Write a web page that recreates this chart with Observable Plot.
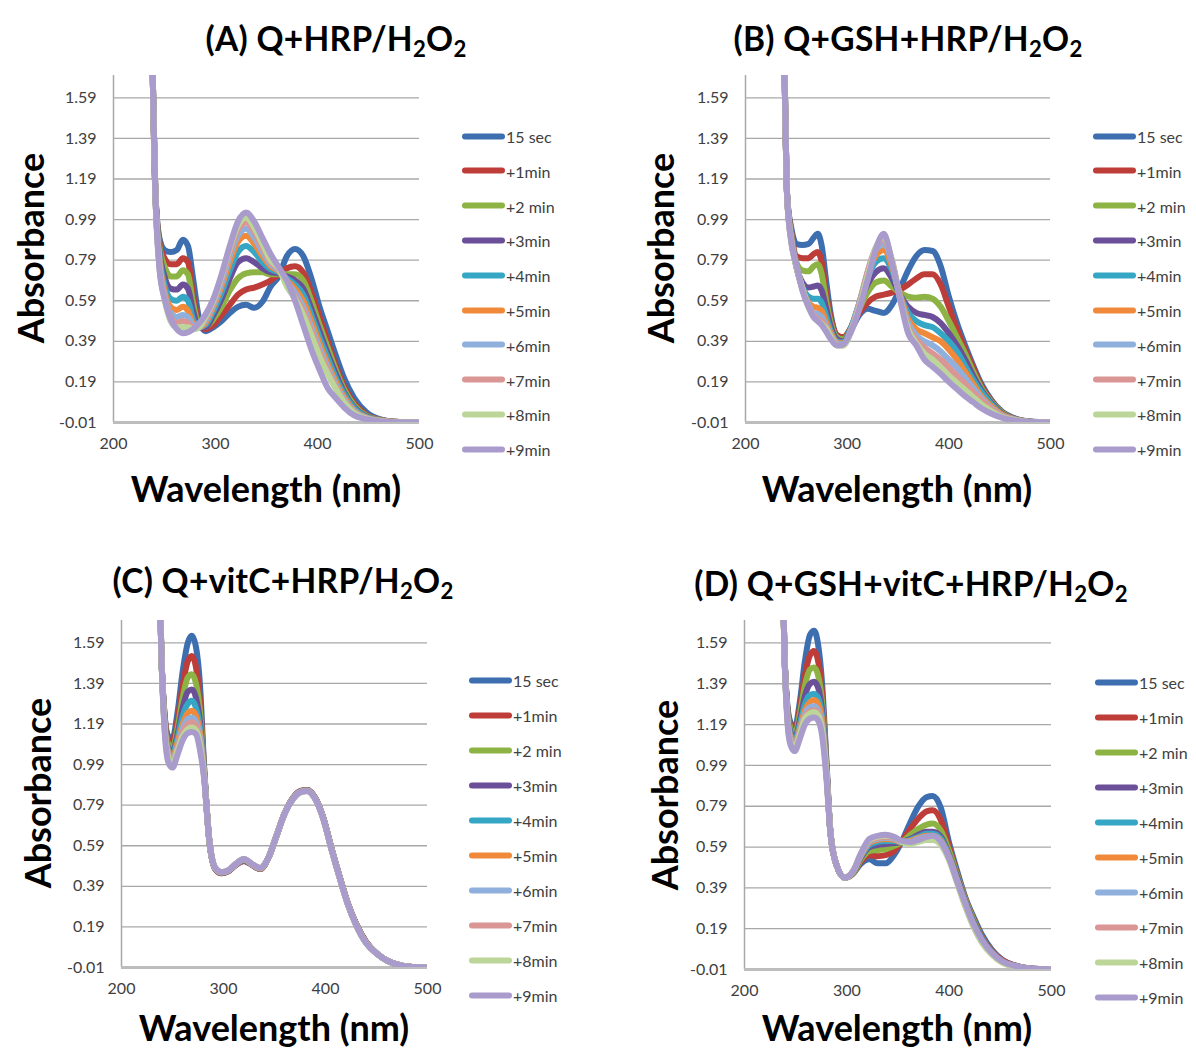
<!DOCTYPE html>
<html><head><meta charset="utf-8">
<script src="https://cdn.jsdelivr.net/npm/d3@7"></script>
<script src="https://cdn.jsdelivr.net/npm/@observablehq/plot@0.6"></script>
<style>
body{margin:0;background:#fff;}
#root{position:relative;width:1196px;height:1051px;overflow:hidden;font-family:Lato,"Open Sans",sans-serif;color:#000;}
.title{position:absolute;font-weight:bold;font-size:33.5px;letter-spacing:0.3px;line-height:1.1;white-space:nowrap;transform:translate(-50%,-50%);}
.title sub{font-size:0.66em;vertical-align:-0.28em;line-height:0}
.ylab{position:absolute;font-weight:bold;font-size:36px;line-height:1;white-space:nowrap;transform:translate(-50%,-50%) rotate(-90deg);}
.xlab{position:absolute;font-weight:bold;font-size:36px;line-height:1;white-space:nowrap;transform:translate(-50%,-50%);}
.panel{position:absolute}
.leg{position:absolute;display:flex;align-items:center;font-size:16px;color:#404040;white-space:nowrap;transform:translateY(-50%)}
.sw{width:43px;height:6px;border-radius:3px;margin-right:1px}
</style></head>
<body><div id="root"></div>
<script>
// ---------- shared ----------
const seriesNames = ["15 sec","+1min","+2 min","+3min","+4min","+5min","+6min","+7min","+8min","+9min"];
const seriesColors = ["#3d6fb0","#be3d38","#8cb343","#6b4f98","#35a7c4","#f0893a","#8fb0dd","#d99694","#bcd69a","#a99bcb"];
const xTicks = [200, 300, 400, 500];
const yTicks = [-0.01, 0.19, 0.39, 0.59, 0.79, 0.99, 1.19, 1.39, 1.59];
const titles = ["(A) Q+HRP/H<sub>2</sub>O<sub>2</sub>", "(B) Q+GSH+HRP/H<sub>2</sub>O<sub>2</sub>",
                "(C) Q+vitC+HRP/H<sub>2</sub>O<sub>2</sub>", "(D) Q+GSH+vitC+HRP/H<sub>2</sub>O<sub>2</sub>"];

// ---------- Panel A : Q+HRP/H2O2 ----------
const wlA = [236,239,241,245,250,256,262,268,273,278,284,290,298,306,314,322,330,338,346,354,362,370,378,386,394,402,410,418,426,436,448,462,480,500];
const absA = [
 [2.5,1.55,1.13,0.90,0.84,0.83,0.84,0.89,0.86,0.70,0.50,0.44,0.46,0.49,0.53,0.56,0.57,0.555,0.585,0.66,0.71,0.81,0.845,0.81,0.70,0.56,0.44,0.32,0.21,0.11,0.04,0.005,-0.008,-0.01],
 [2.5,1.55,1.13,0.88,0.80,0.77,0.77,0.80,0.78,0.62,0.48,0.45,0.47,0.52,0.57,0.62,0.645,0.655,0.67,0.69,0.72,0.75,0.76,0.73,0.63,0.51,0.39,0.27,0.17,0.085,0.028,0.003,-0.008,-0.01],
 [2.5,1.55,1.13,0.86,0.76,0.71,0.71,0.74,0.72,0.58,0.47,0.46,0.50,0.56,0.64,0.70,0.725,0.73,0.73,0.72,0.72,0.72,0.72,0.69,0.59,0.47,0.36,0.25,0.155,0.075,0.024,0.002,-0.008,-0.01],
 [2.5,1.55,1.13,0.84,0.71,0.65,0.645,0.67,0.65,0.54,0.46,0.46,0.52,0.60,0.70,0.78,0.80,0.78,0.75,0.73,0.725,0.71,0.69,0.65,0.55,0.44,0.33,0.23,0.14,0.065,0.02,0.001,-0.008,-0.01],
 [2.5,1.55,1.13,0.82,0.67,0.60,0.59,0.61,0.59,0.50,0.46,0.47,0.54,0.63,0.74,0.83,0.86,0.83,0.78,0.745,0.73,0.70,0.67,0.62,0.52,0.41,0.31,0.21,0.13,0.06,0.018,0.0,-0.008,-0.01],
 [2.5,1.55,1.13,0.80,0.64,0.56,0.545,0.56,0.54,0.48,0.46,0.48,0.56,0.66,0.78,0.88,0.91,0.87,0.81,0.76,0.735,0.69,0.65,0.59,0.49,0.38,0.28,0.19,0.115,0.05,0.015,0.0,-0.008,-0.01],
 [2.5,1.55,1.13,0.78,0.62,0.53,0.51,0.52,0.51,0.47,0.46,0.49,0.57,0.68,0.81,0.91,0.945,0.90,0.83,0.77,0.74,0.68,0.63,0.56,0.46,0.355,0.26,0.175,0.105,0.045,0.013,-0.002,-0.008,-0.01],
 [2.5,1.55,1.13,0.77,0.61,0.51,0.48,0.49,0.48,0.46,0.46,0.50,0.58,0.70,0.83,0.94,0.975,0.93,0.85,0.78,0.745,0.67,0.61,0.54,0.44,0.335,0.245,0.165,0.097,0.04,0.011,-0.003,-0.009,-0.01],
 [2.5,1.55,1.13,0.76,0.60,0.49,0.46,0.46,0.46,0.45,0.46,0.51,0.59,0.71,0.85,0.96,1.00,0.95,0.87,0.79,0.75,0.66,0.60,0.52,0.42,0.315,0.23,0.155,0.09,0.036,0.009,-0.004,-0.009,-0.01],
 [2.5,1.55,1.13,0.75,0.60,0.50,0.45,0.43,0.435,0.45,0.48,0.52,0.60,0.72,0.86,0.98,1.025,0.98,0.90,0.82,0.755,0.69,0.59,0.47,0.35,0.25,0.16,0.11,0.065,0.025,0.006,-0.005,-0.009,-0.01]
];

// ---------- Panel B : Q+GSH+HRP/H2O2 ----------
const wlB = [236,239,241,245,250,256,262,267,271,275,279,284,290,296,304,312,320,328,336,344,352,360,368,376,384,392,400,408,416,424,432,442,452,464,480,500];
const absB = [
 [2.5,1.55,1.1,0.95,0.87,0.865,0.87,0.90,0.92,0.86,0.70,0.52,0.42,0.41,0.45,0.52,0.55,0.54,0.53,0.57,0.65,0.74,0.81,0.84,0.835,0.76,0.61,0.48,0.37,0.27,0.18,0.10,0.045,0.012,-0.005,-0.01],
 [2.5,1.55,1.1,0.93,0.81,0.80,0.80,0.82,0.83,0.78,0.64,0.50,0.42,0.41,0.46,0.53,0.58,0.61,0.62,0.63,0.645,0.67,0.70,0.72,0.72,0.67,0.56,0.45,0.35,0.26,0.17,0.095,0.04,0.01,-0.006,-0.01],
 [2.5,1.55,1.1,0.92,0.78,0.74,0.735,0.76,0.77,0.72,0.60,0.48,0.41,0.40,0.46,0.55,0.63,0.68,0.69,0.66,0.63,0.61,0.605,0.61,0.60,0.56,0.49,0.41,0.33,0.24,0.16,0.09,0.04,0.01,-0.006,-0.01],
 [2.5,1.55,1.1,0.91,0.76,0.68,0.655,0.66,0.665,0.64,0.56,0.46,0.40,0.39,0.46,0.57,0.67,0.73,0.75,0.70,0.62,0.56,0.53,0.52,0.51,0.48,0.43,0.37,0.30,0.22,0.15,0.085,0.035,0.01,-0.006,-0.01],
 [2.5,1.55,1.1,0.90,0.76,0.66,0.61,0.60,0.60,0.58,0.52,0.44,0.39,0.385,0.46,0.58,0.70,0.78,0.80,0.74,0.62,0.53,0.49,0.47,0.46,0.43,0.39,0.34,0.27,0.20,0.14,0.08,0.03,0.008,-0.007,-0.01],
 [2.5,1.55,1.1,0.90,0.76,0.65,0.58,0.56,0.555,0.54,0.49,0.43,0.385,0.38,0.45,0.58,0.72,0.81,0.84,0.76,0.62,0.50,0.45,0.43,0.41,0.39,0.35,0.30,0.24,0.18,0.12,0.07,0.03,0.007,-0.007,-0.01],
 [2.5,1.55,1.1,0.89,0.76,0.65,0.57,0.53,0.525,0.51,0.47,0.42,0.38,0.375,0.45,0.58,0.73,0.84,0.87,0.78,0.61,0.48,0.42,0.39,0.37,0.34,0.30,0.26,0.21,0.16,0.11,0.06,0.025,0.005,-0.008,-0.01],
 [2.5,1.55,1.1,0.89,0.76,0.65,0.56,0.52,0.50,0.49,0.46,0.415,0.375,0.37,0.445,0.57,0.73,0.85,0.89,0.79,0.61,0.46,0.40,0.36,0.33,0.30,0.26,0.22,0.18,0.14,0.10,0.055,0.022,0.004,-0.008,-0.01],
 [2.5,1.55,1.1,0.88,0.76,0.65,0.56,0.51,0.49,0.475,0.455,0.41,0.37,0.37,0.44,0.56,0.71,0.85,0.905,0.79,0.60,0.45,0.38,0.33,0.30,0.26,0.22,0.185,0.15,0.115,0.08,0.045,0.018,0.003,-0.008,-0.01],
 [2.5,1.55,1.1,0.88,0.77,0.64,0.56,0.51,0.49,0.47,0.44,0.40,0.37,0.375,0.44,0.55,0.69,0.84,0.92,0.78,0.60,0.43,0.37,0.30,0.265,0.23,0.19,0.155,0.12,0.09,0.06,0.033,0.014,0.0,-0.008,-0.01]
];

// ---------- Panel C : Q+vitC+HRP/H2O2 ----------
const wlC = [236,239,242,246,250,255,260,265,269,273,277,281,286,292,298,305,312,320,328,336,344,352,360,368,376,382,390,398,406,414,422,430,440,450,460,470,485,500];
const absC = [
 [2.3,1.55,1.25,1.13,1.12,1.25,1.45,1.59,1.625,1.57,1.38,0.98,0.62,0.475,0.455,0.465,0.495,0.515,0.495,0.475,0.53,0.64,0.75,0.825,0.86,0.865,0.825,0.725,0.575,0.435,0.305,0.205,0.115,0.06,0.025,0.005,-0.008,-0.01],
 [2.3,1.55,1.25,1.11,1.09,1.21,1.38,1.50,1.525,1.47,1.30,0.97,0.62,0.475,0.455,0.465,0.495,0.515,0.495,0.475,0.53,0.64,0.75,0.825,0.86,0.865,0.825,0.725,0.575,0.435,0.305,0.205,0.115,0.06,0.025,0.005,-0.008,-0.01],
 [2.3,1.55,1.24,1.09,1.07,1.17,1.32,1.42,1.435,1.39,1.25,0.96,0.62,0.477,0.457,0.467,0.497,0.518,0.497,0.477,0.53,0.64,0.75,0.823,0.858,0.863,0.823,0.723,0.573,0.433,0.303,0.203,0.113,0.06,0.025,0.005,-0.008,-0.01],
 [2.3,1.55,1.23,1.07,1.05,1.14,1.27,1.35,1.36,1.32,1.20,0.95,0.62,0.477,0.457,0.467,0.497,0.52,0.497,0.477,0.53,0.64,0.75,0.823,0.858,0.863,0.823,0.723,0.573,0.433,0.303,0.203,0.113,0.06,0.025,0.005,-0.008,-0.01],
 [2.3,1.55,1.22,1.06,1.04,1.12,1.23,1.29,1.305,1.27,1.17,0.95,0.62,0.478,0.458,0.468,0.498,0.522,0.498,0.478,0.53,0.64,0.75,0.822,0.857,0.862,0.822,0.722,0.572,0.432,0.302,0.202,0.112,0.06,0.025,0.005,-0.008,-0.01],
 [2.3,1.55,1.21,1.05,1.02,1.10,1.19,1.245,1.255,1.23,1.14,0.94,0.62,0.478,0.458,0.468,0.498,0.523,0.498,0.478,0.53,0.64,0.75,0.822,0.857,0.862,0.822,0.722,0.572,0.432,0.302,0.202,0.112,0.06,0.025,0.005,-0.008,-0.01],
 [2.3,1.55,1.20,1.04,1.01,1.08,1.17,1.215,1.222,1.20,1.12,0.94,0.62,0.48,0.46,0.47,0.50,0.524,0.50,0.48,0.53,0.64,0.75,0.82,0.855,0.86,0.82,0.72,0.57,0.43,0.30,0.20,0.11,0.06,0.025,0.005,-0.008,-0.01],
 [2.3,1.55,1.20,1.03,1.00,1.07,1.15,1.19,1.198,1.18,1.10,0.93,0.62,0.48,0.46,0.47,0.50,0.525,0.50,0.48,0.53,0.64,0.75,0.82,0.855,0.86,0.82,0.72,0.57,0.43,0.30,0.20,0.11,0.06,0.025,0.005,-0.008,-0.01],
 [2.3,1.55,1.19,1.02,0.99,1.06,1.13,1.165,1.173,1.16,1.09,0.93,0.62,0.48,0.46,0.47,0.50,0.525,0.50,0.48,0.53,0.64,0.75,0.82,0.855,0.86,0.82,0.72,0.57,0.43,0.30,0.20,0.11,0.06,0.025,0.005,-0.008,-0.01],
 [2.3,1.55,1.18,1.00,0.975,1.04,1.11,1.145,1.15,1.14,1.06,0.92,0.62,0.48,0.46,0.47,0.50,0.525,0.50,0.48,0.53,0.64,0.75,0.82,0.855,0.86,0.82,0.72,0.57,0.43,0.30,0.20,0.11,0.06,0.025,0.005,-0.008,-0.01]
];

// ---------- Panel D : Q+GSH+vitC+HRP/H2O2 ----------
const wlD = [236,239,242,245,249,254,259,264,268,272,276,280,284,290,298,306,314,322,330,338,346,354,362,370,378,384,392,400,408,416,424,432,442,452,464,480,500];
const absD = [
 [2.3,1.55,1.28,1.20,1.17,1.30,1.50,1.63,1.65,1.58,1.38,1.02,0.66,0.50,0.44,0.46,0.51,0.53,0.51,0.51,0.55,0.62,0.71,0.79,0.835,0.84,0.78,0.61,0.47,0.34,0.245,0.16,0.085,0.037,0.01,-0.005,-0.01],
 [2.3,1.55,1.27,1.18,1.15,1.27,1.43,1.53,1.55,1.50,1.33,1.00,0.66,0.50,0.44,0.46,0.52,0.55,0.545,0.55,0.57,0.62,0.68,0.73,0.765,0.77,0.72,0.59,0.455,0.335,0.235,0.15,0.08,0.035,0.01,-0.005,-0.01],
 [2.3,1.55,1.26,1.17,1.14,1.24,1.38,1.46,1.47,1.43,1.29,0.99,0.66,0.50,0.44,0.46,0.53,0.57,0.575,0.58,0.595,0.615,0.65,0.68,0.70,0.705,0.67,0.57,0.45,0.33,0.23,0.145,0.075,0.03,0.008,-0.006,-0.01],
 [2.3,1.55,1.25,1.15,1.12,1.21,1.33,1.39,1.40,1.37,1.25,0.98,0.66,0.50,0.44,0.465,0.54,0.59,0.60,0.605,0.61,0.615,0.63,0.65,0.665,0.665,0.64,0.55,0.44,0.32,0.22,0.14,0.072,0.03,0.008,-0.006,-0.01],
 [2.3,1.55,1.24,1.14,1.11,1.19,1.29,1.335,1.34,1.32,1.22,0.97,0.66,0.50,0.44,0.47,0.545,0.60,0.615,0.62,0.62,0.615,0.625,0.64,0.655,0.655,0.63,0.545,0.43,0.315,0.215,0.135,0.07,0.028,0.007,-0.006,-0.01],
 [2.3,1.55,1.23,1.13,1.10,1.17,1.26,1.30,1.31,1.29,1.20,0.96,0.66,0.50,0.44,0.47,0.55,0.61,0.625,0.63,0.625,0.615,0.62,0.635,0.645,0.645,0.62,0.54,0.425,0.31,0.21,0.13,0.068,0.027,0.007,-0.006,-0.01],
 [2.3,1.55,1.22,1.12,1.09,1.16,1.24,1.275,1.28,1.26,1.18,0.96,0.66,0.50,0.44,0.47,0.555,0.615,0.63,0.635,0.63,0.615,0.615,0.63,0.64,0.64,0.615,0.535,0.42,0.305,0.205,0.128,0.066,0.026,0.006,-0.007,-0.01],
 [2.3,1.55,1.22,1.11,1.085,1.15,1.23,1.255,1.26,1.245,1.17,0.95,0.66,0.50,0.44,0.47,0.56,0.62,0.635,0.64,0.635,0.615,0.61,0.62,0.63,0.63,0.605,0.53,0.415,0.30,0.20,0.125,0.064,0.025,0.006,-0.007,-0.01],
 [2.3,1.55,1.21,1.10,1.08,1.14,1.22,1.245,1.25,1.235,1.16,0.95,0.66,0.50,0.44,0.47,0.56,0.625,0.64,0.645,0.64,0.615,0.605,0.615,0.625,0.625,0.60,0.525,0.41,0.295,0.197,0.122,0.062,0.024,0.005,-0.007,-0.01],
 [2.3,1.55,1.20,1.09,1.06,1.12,1.19,1.22,1.225,1.21,1.13,0.93,0.655,0.50,0.44,0.47,0.56,0.63,0.645,0.65,0.64,0.62,0.615,0.625,0.64,0.645,0.615,0.535,0.42,0.31,0.21,0.135,0.07,0.03,0.008,-0.005,-0.01]
];

// ---------- layout ----------
const panels = [
  {wl: wlA, abs: absA, svg:{left:0,top:60,width:440,height:397,ml:113,mr:21}, title:[336,38], ylab:[30,248], xlab:[266,488], leg:[462,136,34.8]},
  {wl: wlB, abs: absB, svg:{left:630,top:60,width:440,height:397,ml:115,mr:20}, title:[908,38], ylab:[660,248], xlab:[897,488], leg:[1093,136,34.8]},
  {wl: wlC, abs: absC, svg:{left:0,top:605,width:450,height:397,ml:121,mr:23}, title:[283,580], ylab:[37,793], xlab:[274,1027], leg:[469,680,35]},
  {wl: wlD, abs: absD, svg:{left:630,top:605,width:440,height:399,ml:114,mr:19}, title:[911,583], ylab:[664,795], xlab:[897,1027], leg:[1095,682,35]}
];

const root = document.getElementById("root");
function addDiv(cls, html, x, y) {
  const d = document.createElement("div");
  d.className = cls; d.innerHTML = html;
  d.style.left = x + "px"; d.style.top = y + "px";
  root.appendChild(d); return d;
}

panels.forEach((p, k) => {
  const rows = [];
  p.abs.forEach((vals, i) => vals.forEach((v, j) => rows.push({wl: p.wl[j], v, s: seriesNames[i]})));
  const chart = Plot.plot({
    width: p.svg.width, height: p.svg.height,
    marginLeft: p.svg.ml, marginRight: p.svg.mr, marginTop: 15, marginBottom: 35,
    style: {fontFamily: "Lato, 'Open Sans', sans-serif", fontSize: "16px", color: "#404040", background: "transparent"},
    x: {domain: [200, 500]},
    y: {domain: [-0.01, 1.70]},
    color: {domain: seriesNames, range: seriesColors},
    marks: [
      Plot.ruleY(yTicks.slice(1), {stroke: "#a8a8a8", strokeWidth: 1.3}),
      Plot.ruleX([200], {stroke: "#a8a8a8", strokeWidth: 1.5}),
      Plot.ruleY([-0.01], {stroke: "#bdbdbd", strokeWidth: 3}),
      Plot.line(rows, {x: "wl", y: "v", z: "s", stroke: "s", strokeWidth: 6, curve: "monotone-x", clip: true}),
      Plot.axisX({ticks: xTicks, tickSize: 0, tickPadding: 15, label: null, tickFormat: d => String(d)}),
      Plot.axisY({ticks: yTicks, tickSize: 0, tickPadding: 17, label: null, tickFormat: d => d.toFixed(2)})
    ]
  });
  chart.classList.add("panel");
  chart.style.left = p.svg.left + "px"; chart.style.top = p.svg.top + "px";
  chart.style.position = "absolute";
  root.appendChild(chart);

  addDiv("title", titles[k], p.title[0], p.title[1]);
  addDiv("ylab", "Absorbance", p.ylab[0], p.ylab[1]);
  addDiv("xlab", "Wavelength (nm)", p.xlab[0], p.xlab[1]);
  seriesNames.forEach((n, i) => {
    addDiv("leg", `<span class="sw" style="background:${seriesColors[i]}"></span>${n}`, p.leg[0], p.leg[1] + i * p.leg[2]);
  });
});
</script>
</body></html>
